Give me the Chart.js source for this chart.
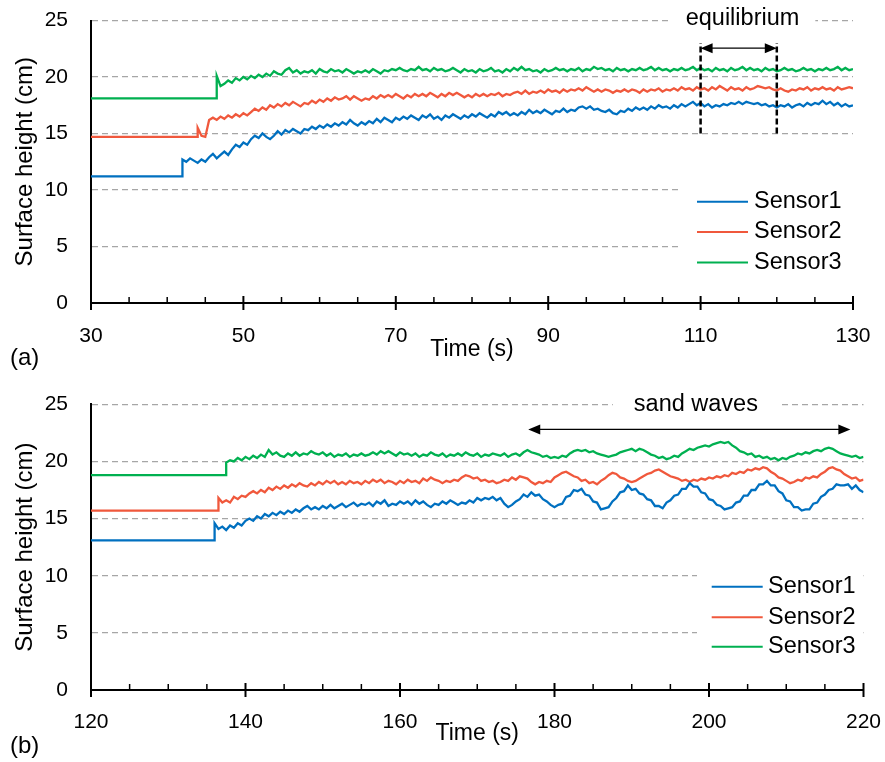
<!DOCTYPE html>
<html>
<head>
<meta charset="utf-8">
<script src="https://cdn.jsdelivr.net/npm/chart.js@4.4.1/dist/chart.umd.min.js"></script>
<style>
  body { margin: 0; background: #fff; }
  canvas { display: block; }
</style>
</head>
<body>
<canvas id="panelA" width="885" height="381"></canvas>
<canvas id="panelB" width="885" height="381"></canvas>
<script>
// sample interval of the logged surface heights (s)
const timeStep = 0.5

const sensorNames = ["Sensor1", "Sensor2", "Sensor3"]
const sensorColors = ["#0070c0", "#f0583c", "#00b050"]

const yTicks = [0, 5, 10, 15, 20, 25]

// ---- run (a): 30 - 130 s ----
const timeRangeA = [30, 130]

const s1aLevel = 11.2
const s1aStart = 42
const s1aValues = [
	12.7, 12.5, 12.8, 12.6, 12.4, 12.7, 12.5, 12.9, 13.2,
	12.8, 13.1, 13.4, 13.1, 13.6, 14.0, 13.8, 14.2, 14.0, 14.5,
	14.8, 14.6, 15.0, 14.7, 14.5, 14.8, 15.2, 14.9, 15.3, 15.1,
	15.4, 15.2, 15.0, 15.4, 15.3, 15.6, 15.4, 15.7, 15.5, 15.8,
	15.6, 15.9, 15.7, 16.0, 15.8, 16.2, 15.9, 15.7, 16.0, 15.8,
	16.1, 15.9, 16.3, 16.0, 16.4, 16.2, 16.0, 16.4, 16.2, 16.5,
	16.3, 16.6, 16.4, 16.2, 16.6, 16.4, 16.7, 16.3, 16.5, 16.2,
	16.6, 16.4, 16.7, 16.5, 16.3, 16.6, 16.4, 16.7, 16.5, 16.8,
	16.6, 16.4, 16.7, 16.5, 16.9, 16.7, 16.9, 16.6, 16.8, 16.6,
	16.9, 16.7, 17.1, 16.8, 17.0, 16.8, 17.1, 16.9, 16.7, 17.0,
	16.9, 17.2, 16.9, 17.1, 17.0, 17.3, 17.4, 17.2, 17.4, 17.1,
	17.2, 17.0, 16.9, 17.1, 16.8, 16.7, 17.0, 16.9, 17.2, 17.0,
	17.3, 17.1, 17.3, 17.1, 17.4, 17.2, 17.5, 17.3, 17.4, 17.2,
	17.5, 17.3, 17.6, 17.4, 17.6, 17.8, 17.5, 17.7, 17.4, 17.6,
	17.3, 17.5, 17.4, 17.6, 17.5, 17.7, 17.6, 17.8, 17.6, 17.8,
	17.7, 17.6, 17.7, 17.5, 17.6, 17.4, 17.5, 17.3, 17.5, 17.4,
	17.6, 17.3, 17.5, 17.6, 17.4, 17.7, 17.5, 17.7, 17.6, 17.9,
	17.6, 17.8, 17.5, 17.7, 17.4, 17.6, 17.4, 17.5
]

const s2aLevel = 14.7
const s2aStart = 44
const s2aValues = [
	15.5, 14.8, 14.7, 16.2, 16.4, 16.2, 16.5, 16.3, 16.6,
	16.4, 16.7, 16.5, 16.8, 16.6, 16.9, 17.2, 17.0, 17.3, 17.1,
	17.5, 17.3, 17.6, 17.4, 17.7, 17.5, 17.8, 17.6, 17.4, 17.7,
	17.6, 17.9, 17.7, 18.0, 17.8, 18.1, 17.9, 18.2, 18.0, 18.1,
	18.3, 18.0, 18.3, 18.1, 17.9, 18.1, 18.0, 18.3, 18.1, 18.4,
	18.2, 18.4, 18.2, 18.5, 18.3, 18.1, 18.4, 18.2, 18.5, 18.3,
	18.5, 18.3, 18.6, 18.4, 18.2, 18.5, 18.3, 18.6, 18.4, 18.6,
	18.4, 18.2, 18.4, 18.2, 18.5, 18.3, 18.5, 18.3, 18.5, 18.4,
	18.6, 18.3, 18.5, 18.4, 18.6, 18.7, 18.5, 18.8, 18.5, 18.7,
	18.6, 18.8, 18.6, 18.9, 18.7, 18.8, 18.6, 18.9, 18.7, 18.9,
	18.8, 19.0, 18.8, 19.1, 18.9, 18.7, 18.9, 18.7, 18.9, 18.8,
	18.6, 18.8, 18.7, 18.9, 18.7, 18.9, 18.8, 18.6, 18.9, 18.7,
	18.9, 18.8, 19.0, 18.7, 18.9, 18.8, 19.0, 18.8, 19.1, 18.9,
	19.0, 18.8, 19.1, 18.9, 19.0, 18.8, 19.1, 18.9, 19.2, 19.0,
	18.8, 19.1, 18.9, 19.0, 18.8, 19.1, 18.9, 19.0, 19.2, 19.1,
	19.0, 19.1, 18.9, 18.8, 19.0, 18.8, 18.7, 18.9, 18.8, 19.0,
	18.9, 19.1, 18.8, 19.0, 18.9, 19.1, 18.9, 19.0, 18.8, 19.1,
	18.9, 19.0, 19.1, 19.0
]

const s3aLevel = 18.1
const s3aStart = 46.5
const s3aValues = [
	20.1, 19.2, 19.4, 19.7, 19.5, 19.9, 19.7, 20.0, 19.8,
	20.1, 19.9, 20.2, 20.0, 20.3, 20.1, 20.5, 20.3, 20.2, 20.6,
	20.8, 20.4, 20.6, 20.3, 20.5, 20.4, 20.6, 20.3, 20.7, 20.5,
	20.4, 20.7, 20.5, 20.6, 20.4, 20.7, 20.5, 20.3, 20.5, 20.4,
	20.6, 20.4, 20.7, 20.5, 20.3, 20.6, 20.5, 20.7, 20.6, 20.8,
	20.6, 20.5, 20.7, 20.6, 20.9, 20.6, 20.7, 20.5, 20.8, 20.6,
	20.7, 20.5, 20.6, 20.8, 20.6, 20.4, 20.7, 20.5, 20.6, 20.4,
	20.7, 20.5, 20.6, 20.8, 20.5, 20.6, 20.4, 20.7, 20.5, 20.8,
	20.6, 20.9, 20.6, 20.7, 20.5, 20.6, 20.4, 20.7, 20.5, 20.6,
	20.8, 20.6, 20.7, 20.5, 20.7, 20.6, 20.8, 20.5, 20.7, 20.6,
	20.9, 20.7, 20.8, 20.6, 20.7, 20.5, 20.8, 20.6, 20.7, 20.5,
	20.7, 20.6, 20.8, 20.6, 20.7, 20.9, 20.6, 20.8, 20.6, 20.7,
	20.5, 20.7, 20.6, 20.8, 20.6, 20.7, 20.9, 20.6, 20.8, 20.6,
	20.7, 20.5, 20.8, 20.6, 20.7, 20.5, 20.8, 20.6, 20.7, 20.9,
	20.6, 20.8, 20.6, 20.7, 20.5, 20.8, 20.6, 20.7, 20.5, 20.6,
	20.8, 20.6, 20.7, 20.5, 20.6, 20.8, 20.6, 20.7, 20.5, 20.7,
	20.6, 20.8, 20.6, 20.7, 20.9, 20.6, 20.8, 20.6, 20.7
]

// ---- run (b): 120 - 220 s ----
const timeRangeB = [120, 220]

const s1bLevel = 13.1
const s1bStart = 136
const s1bValues = [
	14.6, 14.1, 14.3, 14.0, 14.4, 14.2, 14.6, 14.4, 14.8,
	15.0, 14.8, 15.2, 15.0, 15.4, 15.2, 15.5, 15.3, 15.6, 15.4,
	15.7, 15.5, 15.8, 15.6, 15.9, 16.1, 15.8, 16.0, 15.8, 16.1,
	15.9, 16.2, 15.9, 16.1, 16.3, 16.0, 16.2, 16.4, 16.1, 16.3,
	16.2, 16.4, 16.1, 16.5, 16.3, 16.6, 16.1, 16.3, 16.2, 16.5,
	16.3, 16.5, 16.2, 16.6, 16.3, 16.5, 16.2, 16.0, 16.3, 16.2,
	16.5, 16.3, 16.6, 16.4, 16.2, 16.4, 16.3, 16.6, 16.4, 16.8,
	16.6, 16.8, 16.7, 16.9, 16.6, 16.8, 16.3, 16.0, 16.2, 16.5,
	16.7, 17.1, 16.9, 17.3, 17.0, 17.1, 16.7, 16.5, 16.2, 16.0,
	16.2, 16.3, 16.9, 17.0, 17.5, 17.4, 17.6, 17.1, 17.0, 16.5,
	16.4, 15.8, 15.9, 16.0, 16.5, 16.8, 17.3, 17.4, 17.9, 17.5,
	17.6, 17.2, 17.1, 16.7, 16.6, 16.1, 16.1, 15.9, 16.4, 16.6,
	17.0, 17.1, 17.6, 17.6, 18.1, 17.8, 17.8, 17.3, 17.2, 16.7,
	16.6, 16.2, 16.1, 15.8, 15.9, 16.0, 16.4, 16.5, 17.0, 17.0,
	17.5, 17.5, 18.0, 18.0, 18.3, 17.9, 17.9, 17.4, 17.2, 16.6,
	16.5, 16.0, 16.0, 15.7, 15.8, 15.8, 16.3, 16.4, 16.9, 17.1,
	17.5, 17.6, 18.0, 17.9, 17.9, 18.0, 17.6, 17.9, 17.5, 17.3
]

const s2bLevel = 15.7
const s2bStart = 136.5
const s2bValues = [
	16.8, 16.4, 16.6, 16.4, 16.9, 16.7, 17.0, 16.9, 17.2,
	17.4, 17.2, 17.5, 17.3, 17.7, 17.5, 17.8, 17.6, 17.9, 17.7,
	18.0, 17.8, 18.1, 17.9, 17.8, 18.1, 17.9, 18.2, 18.0, 18.3,
	18.1, 18.3, 18.0, 18.2, 18.0, 18.3, 18.1, 18.2, 18.0, 18.3,
	18.1, 18.4, 18.2, 18.4, 18.1, 18.3, 18.2, 18.0, 18.3, 18.1,
	18.4, 18.2, 18.3, 18.1, 18.5, 18.3, 18.6, 18.4, 18.3, 18.1,
	18.3, 18.2, 18.4, 18.3, 18.6, 18.8, 18.7, 18.5, 18.6, 18.3,
	18.4, 18.2, 18.3, 18.1, 18.2, 18.4, 18.3, 18.6, 18.4, 18.7,
	18.6, 18.5, 18.2, 18.0, 18.2, 18.1, 18.3, 18.2, 18.6, 18.8,
	19.0, 19.1, 18.9, 18.7, 18.6, 18.3, 18.4, 18.1, 18.2, 18.0,
	18.3, 18.5, 18.8, 19.0, 18.9, 18.6, 18.5, 18.3, 18.2, 18.3,
	18.5, 18.7, 18.9, 19.0, 19.2, 19.3, 19.1, 18.9, 18.7, 18.6,
	18.5, 18.3, 18.4, 18.2, 18.4, 18.3, 18.5, 18.4, 18.6, 18.5,
	18.7, 18.6, 18.8, 18.7, 19.0, 18.9, 19.1, 19.0, 19.3, 19.2,
	19.4, 19.3, 19.5, 19.4, 19.1, 18.9, 18.6, 18.5, 18.3, 18.1,
	18.2, 18.4, 18.3, 18.6, 18.5, 18.7, 18.6, 18.9, 19.1, 19.4,
	19.5, 19.3, 19.2, 18.9, 18.7, 18.5, 18.6, 18.3, 18.4
]

const s3bLevel = 18.8
const s3bStart = 137.5
const s3bValues = [
	19.9, 20.1, 20.0, 20.3, 20.1, 20.4, 20.2, 20.5, 20.3,
	20.6, 20.4, 21.0, 20.6, 20.8, 20.5, 20.4, 20.7, 20.5, 20.8,
	20.5, 20.7, 20.6, 20.9, 20.7, 20.6, 20.8, 20.5, 20.7, 20.4,
	20.6, 20.5, 20.7, 20.4, 20.6, 20.5, 20.7, 20.5, 20.6, 20.8,
	20.6, 20.9, 20.7, 20.9, 20.7, 20.5, 20.8, 20.6, 20.7, 20.5,
	20.7, 20.4, 20.6, 20.5, 20.8, 20.6, 20.5, 20.7, 20.4, 20.6,
	20.5, 20.7, 20.5, 20.8, 20.6, 20.5, 20.7, 20.4, 20.6, 20.5,
	20.7, 20.6, 20.5, 20.7, 20.4, 20.6, 20.7, 20.5, 20.8, 21.0,
	20.8, 20.7, 20.6, 20.4, 20.5, 20.3, 20.4, 20.3, 20.5, 20.4,
	20.7, 20.9, 21.0, 20.9, 21.0, 20.8, 20.9, 20.7, 20.6, 20.5,
	20.4, 20.5, 20.6, 20.8, 20.9, 21.0, 21.1, 20.9, 21.1, 21.0,
	20.8, 20.6, 20.5, 20.3, 20.4, 20.2, 20.3, 20.5, 20.4, 20.7,
	20.9, 21.1, 21.0, 21.2, 21.3, 21.4, 21.3, 21.5, 21.6, 21.7,
	21.6, 21.7, 21.4, 21.2, 20.9, 20.8, 20.6, 20.7, 20.4, 20.5,
	20.3, 20.4, 20.2, 20.3, 20.1, 20.3, 20.2, 20.4, 20.5, 20.7,
	20.6, 20.8, 20.7, 20.9, 21.0, 20.9, 21.1, 21.2, 21.1, 20.9,
	20.7, 20.6, 20.5, 20.4, 20.5, 20.3, 20.4
]

const FONT = 'Arial, "Liberation Sans", sans-serif'
Chart.defaults.font.family = FONT
Chart.defaults.color = "#000"

// level held from the start of the window, step at `start`, then the logged samples
function trace(from, level, start, values) {
	const pts = [{ x: from, y: level }, { x: start, y: level }]
	values.forEach((v, i) => pts.push({ x: start + i * timeStep, y: v }))
	return pts
}

function drawArrow(ctx, x1, x2, y) {
	const head = 12, half = 5
	ctx.lineWidth = 1.3
	ctx.beginPath()
	ctx.moveTo(x1 + head - 1, y)
	ctx.lineTo(x2 - head + 1, y)
	ctx.stroke()
	ctx.beginPath()
	ctx.moveTo(x1, y); ctx.lineTo(x1 + head, y - half); ctx.lineTo(x1 + head, y + half); ctx.closePath()
	ctx.moveTo(x2, y); ctx.lineTo(x2 - head, y - half); ctx.lineTo(x2 - head, y + half); ctx.closePath()
	ctx.fill()
}

// tick marks, legend box, notes and panel letter
const extras = {
	id: "extras",
	afterDraw(chart, args, opts) {
		const ctx = chart.ctx
		const xs = chart.scales.x, ys = chart.scales.y
		const area = chart.chartArea
		ctx.save()
		ctx.strokeStyle = "#000"
		ctx.fillStyle = "#000"

		// major ticks cross the axis, minor ones sit inside
		for (let t = xs.min; t <= xs.max; t += 5) {
			const px = xs.getPixelForValue(t)
			const major = (t - xs.min) % 20 === 0
			ctx.lineWidth = major ? 2 : 1.5
			ctx.beginPath()
			ctx.moveTo(px, area.bottom - (major ? 7 : 6))
			ctx.lineTo(px, area.bottom + (major ? 7 : 0))
			ctx.stroke()
		}

		// note above the plot, sitting on the top grid line
		ctx.font = "23.5px " + FONT
		const noteW = ctx.measureText(opts.note).width
		const nx = xs.getPixelForValue(opts.noteAt[0])
		const gy = ys.getPixelForValue(ys.max)
		ctx.fillStyle = "#fff"
		ctx.fillRect(nx - noteW / 2 - opts.notePad, gy - 4, noteW + 2 * opts.notePad, 8)
		ctx.fillStyle = "#000"
		ctx.textAlign = "center"
		ctx.textBaseline = "alphabetic"
		ctx.fillText(opts.note, nx, ys.getPixelForValue(opts.noteAt[1]))

		// dashed bounds of the averaging window
		if (opts.bounds) {
			ctx.save()
			ctx.lineWidth = 2.5
			ctx.setLineDash([6, 3])
			opts.bounds.forEach(t => {
				const px = xs.getPixelForValue(t)
				ctx.beginPath()
				ctx.moveTo(px, ys.getPixelForValue(opts.boundsY[0]))
				ctx.lineTo(px, ys.getPixelForValue(opts.boundsY[1]))
				ctx.stroke()
			})
			ctx.restore()
		}

		drawArrow(ctx, xs.getPixelForValue(opts.arrow[0]), xs.getPixelForValue(opts.arrow[1]),
			ys.getPixelForValue(opts.arrow[2]))

		// legend
		const lg = opts.legend
		ctx.fillStyle = "#fff"
		ctx.fillRect(lg.box[0], lg.box[1], lg.box[2], lg.box[3])
		ctx.textAlign = "left"
		ctx.textBaseline = "middle"
		chart.data.datasets.forEach((ds, i) => {
			const ry = lg.rows[i]
			ctx.strokeStyle = ds.borderColor
			ctx.lineWidth = 2
			ctx.beginPath()
			ctx.moveTo(lg.line[0], ry)
			ctx.lineTo(lg.line[1], ry)
			ctx.stroke()
			ctx.fillStyle = "#000"
			ctx.fillText(ds.label, lg.textX, ry)
		})

		// panel letter
		ctx.font = "24px " + FONT
		ctx.textBaseline = "alphabetic"
		ctx.fillText(opts.tag, 10, opts.tagY)
		ctx.restore()
	}
}

function makePanel(id, range, series, pad, axisHeight, tickPad, titlePad, extraOpts) {
	return new Chart(document.getElementById(id), {
		type: "line",
		data: {
			datasets: series.map((pts, i) => ({
				label: sensorNames[i],
				data: pts,
				borderColor: sensorColors[i],
				borderWidth: 2.3,
				pointRadius: 0,
				tension: 0,
				fill: false
			}))
		},
		options: {
			responsive: false,
			animation: false,
			events: [],
			layout: { padding: pad },
			plugins: {
				legend: { display: false },
				tooltip: { enabled: false },
				extras: extraOpts
			},
			scales: {
				x: {
					type: "linear",
					min: range[0],
					max: range[1],
					ticks: { stepSize: 20, padding: tickPad, maxRotation: 0, font: { size: 21 } },
					grid: { display: false, drawTicks: false },
					border: { display: true, color: "#000", width: 2 },
					title: { display: true, text: "Time (s)", font: { size: 23 }, padding: { top: 0, bottom: titlePad } },
					afterFit: s => {
						s.height = axisHeight
						s.paddingLeft = 0
						s.paddingRight = 0
					}
				},
				y: {
					min: yTicks[0],
					max: yTicks[yTicks.length - 1],
					afterBuildTicks: s => { s.ticks = yTicks.map(v => ({ value: v })) },
					ticks: { padding: 23, font: { size: 21 } },
					grid: {
						drawTicks: false,
						lineWidth: 1.3,
						color: c => c.tick && c.tick.value === 0 ? "rgba(0,0,0,0)" : "#a6a6a6"
					},
					border: { display: true, color: "#000", width: 2, dash: [6, 4] },
					title: { display: true, text: "Surface height (cm)", font: { size: 24 }, padding: { top: 10.6, bottom: 0 } },
					afterFit: s => {
						s.width = 91
						s.paddingTop = 0
						s.paddingBottom = 0
					}
				}
			}
		},
		plugins: [extras]
	})
}

makePanel("panelA", timeRangeA, [
		trace(timeRangeA[0], s1aLevel, s1aStart, s1aValues),
		trace(timeRangeA[0], s2aLevel, s2aStart, s2aValues),
		trace(timeRangeA[0], s3aLevel, s3aStart, s3aValues)
	],
	{ left: 0, top: 20.5, right: 32, bottom: 0 }, 78, 20.4, 17.2,
	{
		note: "equilibrium", noteAt: [115.5, 24.6], notePad: 16,
		bounds: [110, 120], boundsY: [15, 23],
		arrow: [110, 120, 22.55],
		legend: { box: [680, 180, 173, 100], line: [697, 748], textX: 754, rows: [201.7, 232, 262.5] },
		tag: "(a)", tagY: 364.5
	})

makePanel("panelB", timeRangeB, [
		trace(timeRangeB[0], s1bLevel, s1bStart, s1bValues),
		trace(timeRangeB[0], s2bLevel, s2bStart, s2bValues),
		trace(timeRangeB[0], s3bLevel, s3bStart, s3bValues)
	],
	{ left: 0, top: 23.3, right: 21.5, bottom: 0 }, 72, 19.4, 14.2,
	{
		note: "sand waves", noteAt: [198.3, 24.4], notePad: 21,
		arrow: [176.6, 218.3, 22.8],
		legend: { box: [697, 184, 166, 100], line: [711.7, 762.7], textX: 768, rows: [205.7, 236.3, 265.7] },
		tag: "(b)", tagY: 371.5
	})
</script>
</body>
</html>
